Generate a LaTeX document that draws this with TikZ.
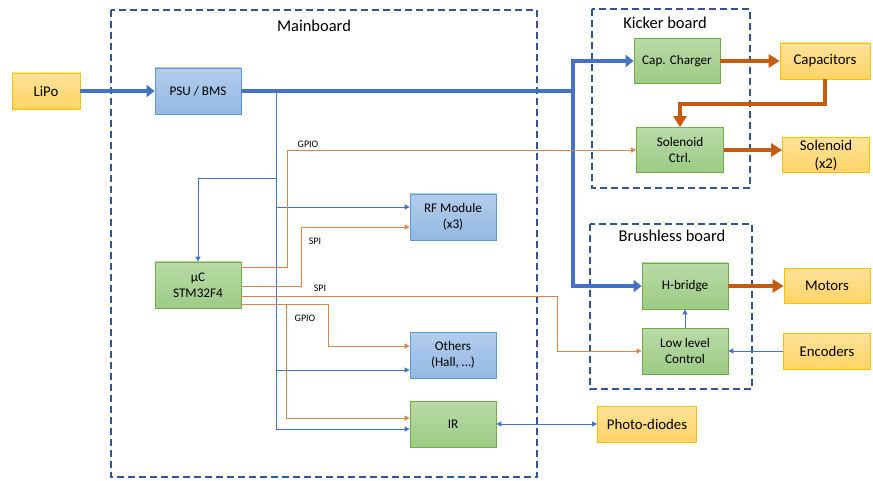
\documentclass[tikz,border=0pt]{standalone}
\usepackage{fontspec}
\setmainfont{Carlito}
\usepackage{tikz}
\usetikzlibrary{arrows.meta}
\definecolor{busblue}{HTML}{4472C4}
\definecolor{boardblue}{HTML}{2F5597}
\definecolor{powerorange}{HTML}{C55A11}
\definecolor{sigorange}{HTML}{E08347}
\definecolor{blueline}{HTML}{5B9BD5}
\definecolor{bluetop}{HTML}{B4CDEC}
\definecolor{bluebot}{HTML}{93B8E2}
\definecolor{greenline}{HTML}{70AD47}
\definecolor{greentop}{HTML}{B9DAA8}
\definecolor{greenbot}{HTML}{9DCB85}
\definecolor{yellowline}{HTML}{FFC000}
\definecolor{yellowtop}{HTML}{FFE29A}
\definecolor{yellowbot}{HTML}{FFD466}
\tikzset{
  blk/.style={draw, line width=0.8pt, minimum width=86pt, minimum height=46pt,
    inner sep=2pt, align=center, font=\fontsize{13.2}{16}\selectfont},
  blueblk/.style={blk, draw=blueline, top color=bluetop, bottom color=bluebot},
  greenblk/.style={blk, draw=greenline, top color=greentop, bottom color=greenbot},
  extblk/.style={draw=yellowline, line width=0.8pt, top color=yellowtop, bottom color=yellowbot,
    minimum height=36pt, inner sep=2pt, align=center, font=\fontsize{14.8}{18}\selectfont},
  board/.style={draw=boardblue, line width=1.5pt, dash pattern=on 7pt off 4pt},
  boardname/.style={font=\fontsize{16.5}{20}\selectfont},
  wirelabel/.style={font=\fontsize{10}{12}\selectfont},
  pow/.style={draw=busblue, line width=4pt, -{Triangle[length=8pt,width=12pt]}},
  load/.style={draw=powerorange, line width=4pt, -{Triangle[length=11pt,width=13pt]}},
  ctl/.style={draw=busblue, line width=0.9pt, -{Triangle[length=5pt,width=5pt]}},
  sig/.style={draw=sigorange, line width=0.9pt, -{Triangle[length=5pt,width=5pt]}},
}

\begin{document}
\begin{tikzpicture}[x=1pt, y=-1pt]
  \useasboundingbox (0,0) rectangle (873,481);

  \draw[board] (111,10) rectangle (537,477);
  \draw[board] (592,9) rectangle (750,188);
  \draw[board] (590,224) rectangle (752,389);
  \node[boardname] (mainname) at (314,26) {Mainboard};
  \node[boardname] (kickname) at (665,23) {Kicker board};
  \node[boardname] (bldcname) at (672,236) {Brushless board};

  \node[extblk, minimum width=68pt] (lipo) at (46,91) {LiPo};
  \node[blueblk] (psu) at (198,91) {PSU / BMS};
  \node[greenblk] (uc) at (198,285) {µC\\STM32F4};
  \node[blueblk] (rf) at (453,217) {RF Module\\(x3)};
  \node[blueblk] (others) at (453,355) {Others\\(Hall, …)};
  \node[greenblk] (ir) at (453,424) {IR};
  \node[extblk, minimum width=99pt] (photo) at (647,424) {Photo-diodes};

  \node[greenblk, minimum height=45pt] (charger) at (677,61) {Cap. Charger};
  \node[greenblk, minimum width=87pt, minimum height=45pt] (solctrl) at (680,150) {Solenoid\\Ctrl.};
  \node[extblk, minimum width=90pt] (capa) at (825,61) {Capacitors};
  \node[extblk, minimum width=87pt, minimum height=35pt] (sol) at (826,155) {Solenoid\\(x2)};

  \node[greenblk] (hbridge) at (685,286) {H-bridge};
  \node[greenblk] (llc) at (685,351) {Low level\\Control};
  \node[extblk, minimum width=86pt, minimum height=35pt] (motors) at (827,286) {Motors};
  \node[extblk, minimum width=87pt] (enc) at (827,351) {Encoders};

  \coordinate (busknee) at (573,91);
  \coordinate (psutap) at (276,91);
  \coordinate (uctap) at (276,178);

  \draw[pow] (lipo.east) to (psu.west);
  \draw[pow] (psu.east) -- (busknee) |- (charger.west);
  \draw[pow] (busknee) |- (hbridge.west);

  \draw[ctl] (psutap) |- ([yshift=-5pt]ir.west);
  \draw[ctl] (uctap) -| (uc.north);
  \draw[ctl] ([yshift=10pt]rf.west -| psutap) -- ([yshift=10pt]rf.west);
  \draw[ctl] ([yshift=-15pt]others.west -| psutap) -- ([yshift=-15pt]others.west);

  \draw[sig] ([yshift=18pt]uc.east) -- ++(46,0) |- (solctrl.west);
  \draw[sig] ([yshift=-1pt]uc.east) -- ++(60,0) |- ([yshift=-10pt]rf.west);
  \draw[sig] ([yshift=-11pt]uc.east) -- ++(316,0) |- (llc.west);
  \draw[sig] ([yshift=-19pt]uc.east) -- ++(87,0) |- ([yshift=9pt]others.west);
  \draw[sig] ([yshift=-19pt]uc.east) -- ++(45,0) |- ([yshift=6pt]ir.west);
  \node[wirelabel] (gpiosol) at (308,144) {GPIO};
  \node[wirelabel] (spirf) at (315,241) {SPI};
  \node[wirelabel] (spillc) at (320,288) {SPI};
  \node[wirelabel] (gpioio) at (305,318) {GPIO};

  \draw[load] (charger.east) to (capa.west);
  \draw[load] (capa.south) -- ++(0,25) -| (solctrl.north);
  \draw[load] (solctrl.east) to (solctrl.east -| sol.west);
  \draw[load] (hbridge.east) to (motors.west);

  \draw[ctl] (llc.north) to (hbridge.south);
  \draw[ctl] (enc.west) to (llc.east);
  \draw[ctl, {Triangle[length=5pt,width=5pt]}-{Triangle[length=5pt,width=5pt]}] (ir.east) to (photo.west);
\end{tikzpicture}
\end{document}
